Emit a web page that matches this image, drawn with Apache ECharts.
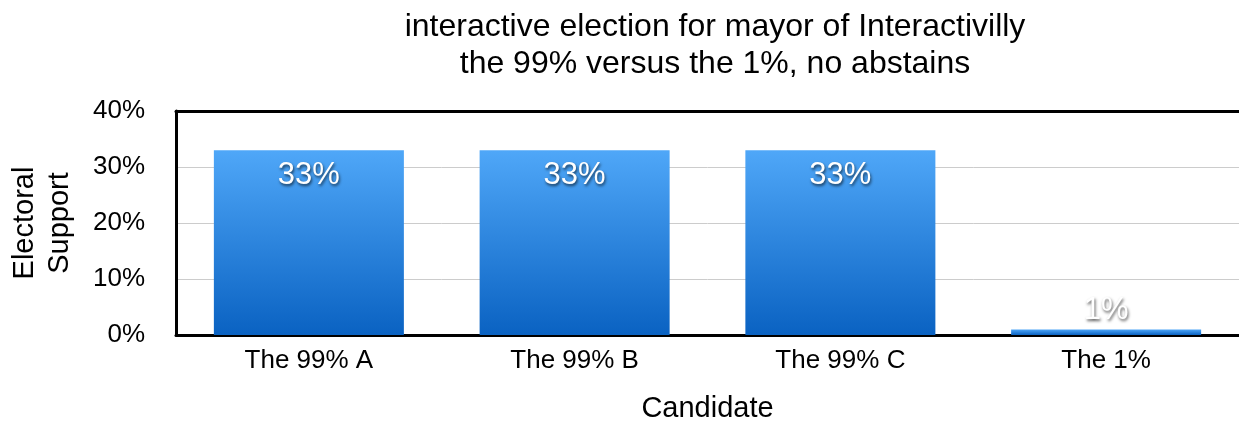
<!DOCTYPE html>
<html>
<head>
<meta charset="utf-8">
<script src="https://cdn.jsdelivr.net/npm/echarts@6/dist/echarts.min.js"></script>
<style>
  html, body { margin: 0; padding: 0; background: #fff; }
  #chart { width: 1239px; height: 423px; }
</style>
</head>
<body>
<div id="chart"></div>
<script>
// Election results by candidate
const candidates = ['The 99% A', 'The 99% B', 'The 99% C', 'The 1%'];
const support = [33, 33, 33, 1];
const yTicks = [0, 10, 20, 30, 40];

const FONT = '"Liberation Sans", Arial, Helvetica, sans-serif';

const barGradient = new echarts.graphic.LinearGradient(0, 0, 0, 1, [
  { offset: 0, color: '#4fa7f8' },
  { offset: 1, color: '#0a62c2' }
]);

const labelBase = {
  show: true,
  formatter: '{c}%',
  fontFamily: FONT,
  fontSize: 31,
  color: '#ffffff',
  textShadowColor: 'rgba(0,0,0,0.65)',
  textShadowBlur: 3,
  textShadowOffsetX: 1,
  textShadowOffsetY: 2
};

const seriesData = support.map(function (v) {
  const small = v < 5;
  return {
    value: v,
    label: small
      ? Object.assign({}, labelBase, { position: 'top', distance: 3 })
      : Object.assign({}, labelBase, { position: 'insideTop', distance: 10 })
  };
});

const chart = echarts.init(document.getElementById('chart'), null, { renderer: 'canvas' });
chart.setOption({
  animation: false,
  backgroundColor: '#ffffff',
  title: {
    text: 'interactive election for mayor of Interactivilly\nthe 99% versus the 1%, no abstains',
    left: 710,
    top: 4,
    textAlign: 'center',
    textStyle: {
      fontFamily: FONT,
      fontSize: 32,
      fontWeight: 'normal',
      color: '#000',
      lineHeight: 37
    }
  },
  grid: { left: 176, right: 0, top: 111, bottom: 88, containLabel: false, outerBoundsMode: 'none' },
  xAxis: [
    {
      type: 'category',
      data: candidates,
      name: 'Candidate',
      nameLocation: 'middle',
      nameGap: 59,
      nameTextStyle: { fontFamily: FONT, fontSize: 29, color: '#000' },
      axisLine: { show: true, lineStyle: { color: '#000', width: 3 } },
      axisTick: { show: false },
      axisLabel: { fontFamily: FONT, fontSize: 26, color: '#000', margin: 13 }
    },
    {
      type: 'category',
      data: candidates,
      position: 'top',
      axisLine: { show: true, lineStyle: { color: '#000', width: 3 } },
      axisTick: { show: false },
      axisLabel: { show: false }
    }
  ],
  yAxis: {
    type: 'value',
    min: yTicks[0],
    max: yTicks[yTicks.length - 1],
    interval: 10,
    name: 'Electoral\nSupport',
    nameLocation: 'middle',
    nameRotate: 90,
    nameGap: 99,
    nameTextStyle: { fontFamily: FONT, fontSize: 29, color: '#000', lineHeight: 35 },
    axisLine: { show: true, lineStyle: { color: '#000', width: 3 } },
    axisTick: { show: false },
    axisLabel: {
      fontFamily: FONT,
      fontSize: 26,
      color: '#000',
      margin: 31,
      formatter: '{value}%'
    },
    splitLine: { show: true, lineStyle: { color: '#cccccc', width: 1 } }
  },
  series: [
    {
      type: 'bar',
      xAxisIndex: 0,
      data: seriesData,
      barWidth: '71.5%',
      itemStyle: { color: barGradient }
    }
  ]
});
</script>
</body>
</html>
